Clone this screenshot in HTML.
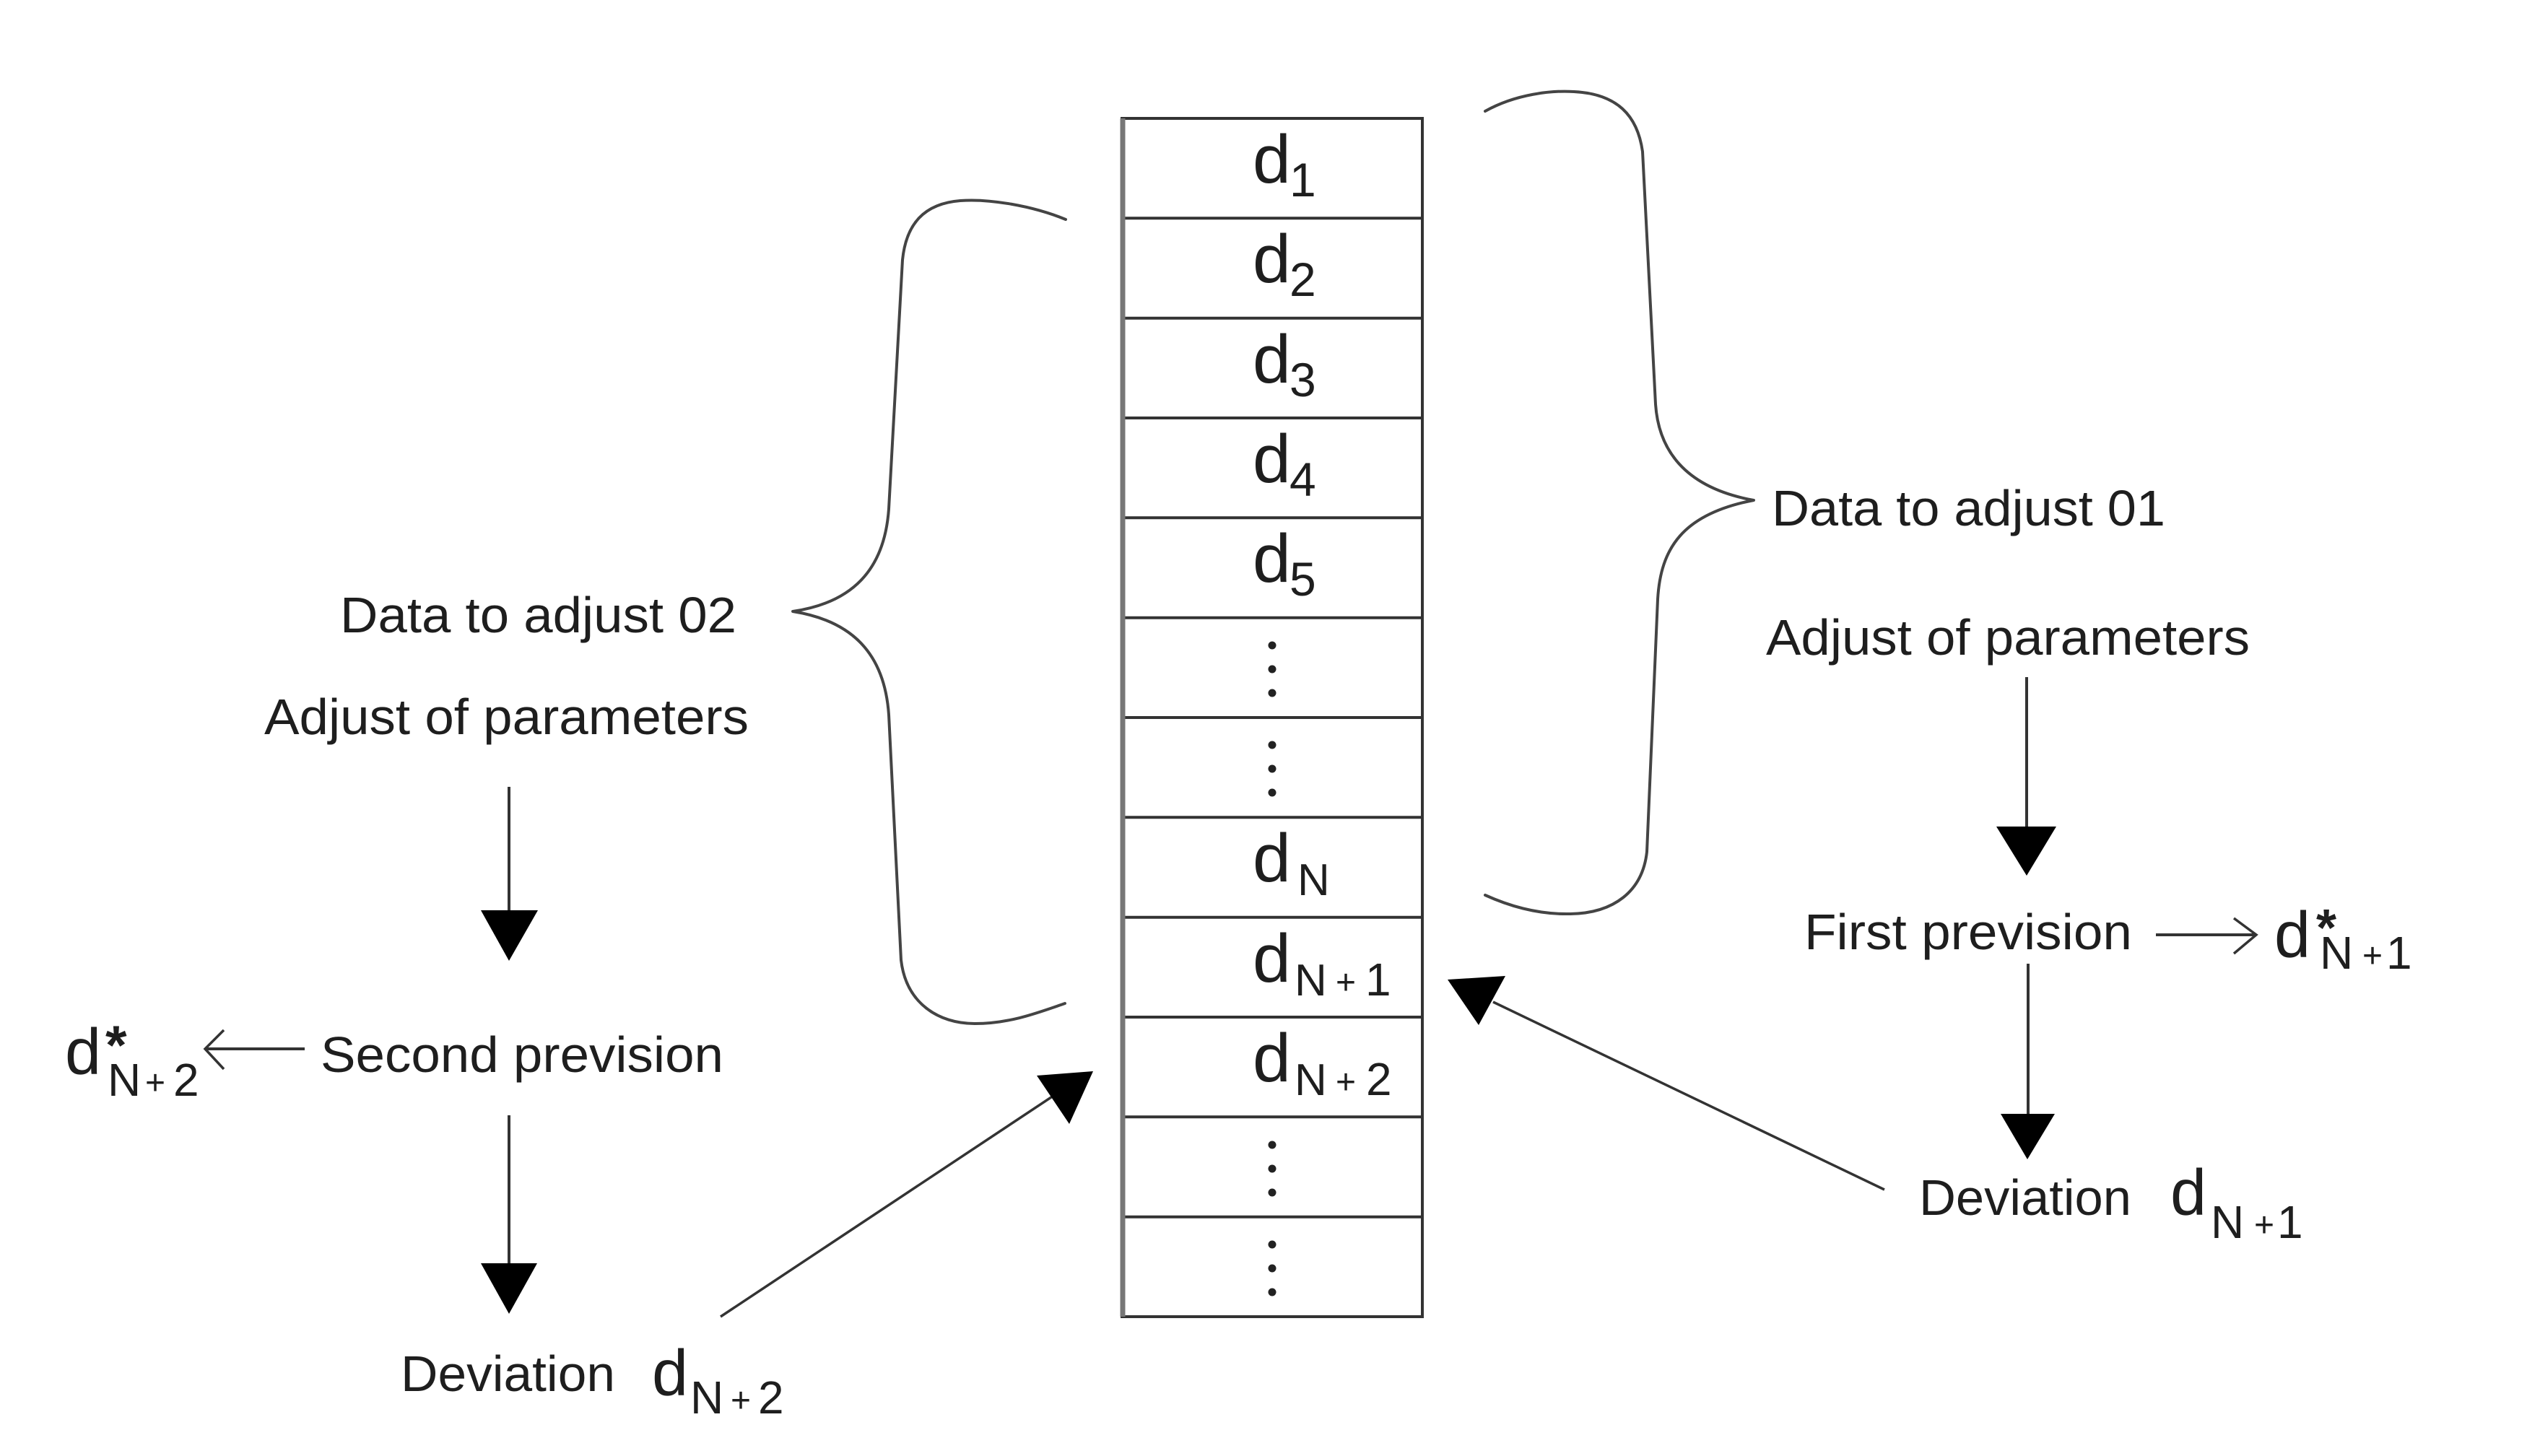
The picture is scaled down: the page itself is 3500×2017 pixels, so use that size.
<!DOCTYPE html>
<html><head><meta charset="utf-8"><style>
html,body{margin:0;padding:0;background:#fff;}
svg{display:block;}
text{font-family:"Liberation Sans",Arial,sans-serif;fill:#1e1e1e;}
</style></head><body>
<svg width="3500" height="2017" viewBox="0 0 3500 2017" xmlns="http://www.w3.org/2000/svg">
<rect x="0" y="0" width="3500" height="2017" fill="#fff"/>

<!-- Column box -->
<g stroke="#333" stroke-width="4" fill="none">
<rect x="1554" y="164" width="416" height="1660"/>
<line x1="1554" y1="302.3" x2="1970" y2="302.3"/>
<line x1="1554" y1="440.7" x2="1970" y2="440.7"/>
<line x1="1554" y1="579" x2="1970" y2="579"/>
<line x1="1554" y1="717.3" x2="1970" y2="717.3"/>
<line x1="1554" y1="855.7" x2="1970" y2="855.7"/>
<line x1="1554" y1="994" x2="1970" y2="994"/>
<line x1="1554" y1="1132.3" x2="1970" y2="1132.3"/>
<line x1="1554" y1="1270.7" x2="1970" y2="1270.7"/>
<line x1="1554" y1="1409" x2="1970" y2="1409"/>
<line x1="1554" y1="1547.3" x2="1970" y2="1547.3"/>
<line x1="1554" y1="1685.7" x2="1970" y2="1685.7"/>
</g>
<line x1="1555" y1="164" x2="1555" y2="1824" stroke="#777" stroke-width="7"/>

<!-- Box labels -->
<g>
<text x="1735" y="253" font-size="95">d</text><text x="1786" y="272" font-size="66">1</text>
<text x="1735" y="391" font-size="95">d</text><text x="1786" y="410" font-size="66">2</text>
<text x="1735" y="530" font-size="95">d</text><text x="1786" y="549" font-size="66">3</text>
<text x="1735" y="668" font-size="95">d</text><text x="1786" y="687" font-size="66">4</text>
<text x="1735" y="806" font-size="95">d</text><text x="1786" y="825" font-size="66">5</text>
<text x="1735" y="1221" font-size="95">d</text><text x="1797" y="1240" font-size="62">N</text>
<text x="1735" y="1360" font-size="95">d</text><text x="1793" y="1379" font-size="62">N</text><text x="1850" y="1377" font-size="48">+</text><text x="1891" y="1379" font-size="64">1</text>
<text x="1735" y="1498" font-size="95">d</text><text x="1793" y="1517" font-size="62">N</text><text x="1850" y="1515" font-size="48">+</text><text x="1892" y="1517" font-size="64">2</text>
</g>

<!-- Dots -->
<g fill="#222">
<circle cx="1762" cy="894" r="5.5"/><circle cx="1762" cy="927" r="5.5"/><circle cx="1762" cy="960" r="5.5"/>
<circle cx="1762" cy="1032" r="5.5"/><circle cx="1762" cy="1065" r="5.5"/><circle cx="1762" cy="1098" r="5.5"/>
<circle cx="1762" cy="1586" r="5.5"/><circle cx="1762" cy="1619" r="5.5"/><circle cx="1762" cy="1652" r="5.5"/>
<circle cx="1762" cy="1724" r="5.5"/><circle cx="1762" cy="1757" r="5.5"/><circle cx="1762" cy="1790" r="5.5"/>
</g>

<!-- Braces -->
<g stroke="#444" stroke-width="4" fill="none" stroke-linecap="round" stroke-linejoin="round">
<path d="M2057,154 C2100,130 2150,125 2180,127 C2240,130 2268,160 2275,210 L2293,560 C2297,620 2330,675 2429,693 C2330,712 2300,760 2296,830 L2281,1180 C2275,1235 2235,1265 2175,1266 C2130,1267 2090,1255 2057,1240"/>
<path d="M1476,304 C1430,285 1370,275 1330,278 C1280,282 1255,310 1250,360 L1231,705 C1225,790 1180,835 1098,847 C1180,860 1225,905 1231,990 L1248,1330 C1255,1390 1300,1418 1350,1418 C1400,1418 1440,1402 1475,1390"/>
</g>

<!-- Right side labels -->
<text x="2454" y="728" font-size="70" textLength="545" lengthAdjust="spacingAndGlyphs">Data to adjust 01</text>
<text x="2446" y="907" font-size="70" textLength="670" lengthAdjust="spacingAndGlyphs">Adjust of parameters</text>
<text x="2499" y="1315" font-size="70" textLength="454" lengthAdjust="spacingAndGlyphs">First prevision</text>
<text x="2658" y="1683" font-size="70" textLength="294" lengthAdjust="spacingAndGlyphs">Deviation</text>

<!-- d*N+1 -->
<text x="3150" y="1326" font-size="90">d</text>
<text x="3208" y="1310" font-size="72" font-weight="bold">*</text>
<text x="3213" y="1342" font-size="64">N</text><text x="3272" y="1340" font-size="48">+</text><text x="3305" y="1342" font-size="64">1</text>

<!-- dN+1 deviation -->
<text x="3006" y="1683" font-size="90">d</text>
<text x="3062" y="1715" font-size="64">N</text><text x="3122" y="1713" font-size="48">+</text><text x="3154" y="1715" font-size="64">1</text>

<!-- Left side labels -->
<text x="471" y="876" font-size="70" textLength="549" lengthAdjust="spacingAndGlyphs">Data to adjust 02</text>
<text x="366" y="1017" font-size="70" textLength="671" lengthAdjust="spacingAndGlyphs">Adjust of parameters</text>
<text x="444" y="1485" font-size="70" textLength="558" lengthAdjust="spacingAndGlyphs">Second prevision</text>
<text x="555" y="1927" font-size="70" textLength="297" lengthAdjust="spacingAndGlyphs">Deviation</text>

<!-- d*N+2 -->
<text x="90" y="1488" font-size="90">d</text>
<text x="146" y="1474" font-size="76" font-weight="bold">*</text>
<text x="149" y="1518" font-size="64">N</text><text x="201" y="1516" font-size="48">+</text><text x="240" y="1518" font-size="64">2</text>

<!-- dN+2 deviation -->
<text x="903" y="1933" font-size="90">d</text>
<text x="956" y="1958" font-size="64">N</text><text x="1012" y="1956" font-size="48">+</text><text x="1050" y="1958" font-size="64">2</text>

<!-- Connectors -->
<g stroke="#333" stroke-width="4" fill="none">
<!-- right vertical arrows -->
<line x1="2807" y1="938" x2="2807" y2="1150"/>
<line x1="2809" y1="1335" x2="2809" y2="1548"/>
<!-- left vertical arrows -->
<line x1="705" y1="1090" x2="705" y2="1265"/>
<line x1="705" y1="1545" x2="705" y2="1754"/>
<!-- right horizontal open arrow -->
<line x1="2986" y1="1295" x2="3123" y2="1295"/>
<polyline points="3094,1272 3125,1295 3094,1321" stroke-width="3.5"/>
<!-- left horizontal open arrow -->
<line x1="422" y1="1453" x2="286" y2="1453"/>
<polyline points="310,1427 284,1453 310,1481" stroke-width="3.5"/>
<!-- diagonals -->
<line x1="2610" y1="1648" x2="2068" y2="1388" stroke-width="3.5"/>
<line x1="998" y1="1824" x2="1462" y2="1516" stroke-width="3.5"/>
</g>

<!-- Arrowheads -->
<g fill="#000">
<polygon points="2765,1145 2848,1145 2807,1213"/>
<polygon points="2771,1543 2846,1543 2808,1606"/>
<polygon points="666,1261 745,1261 705,1331"/>
<polygon points="666,1750 744,1750 705,1820"/>
<polygon points="2005,1357 2085,1352 2048,1420"/>
<polygon points="1436,1490 1514,1484 1481,1557"/>
</g>
</svg>
</body></html>
